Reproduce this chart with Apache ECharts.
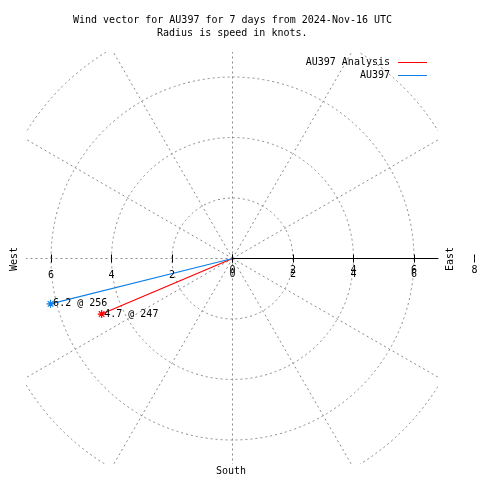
<!DOCTYPE html>
<html><head><meta charset="utf-8">
<script src="https://cdn.jsdelivr.net/npm/echarts@6/dist/echarts.min.js"></script>
<style>html,body{margin:0;padding:0;background:#fff}#c{width:480px;height:480px}</style>
</head><body><div id="c"></div>
<script>
// ---- data ----
const titleLines = ['Wind vector for AU397 for 7 days from 2024-Nov-16 UTC', 'Radius is speed in knots.'];
const seriesNames = ['AU397 Analysis', 'AU397'];
const speeds = [4.7, 6.2];       // knots
const directions = [247, 256];   // degrees (clockwise from north)
const seriesColors = ['#ff0000', '#1080e8'];
const radiusMax = 8;
const radiusStep = 2;
const compassLabels = { west: 'West', east: 'East', south: 'South' };

// ---- layout / style ----
const FONT = 'DejaVu Sans Mono';
const C = [232.5, 258.5];
const R = 242;                 // pixels for radiusMax
const PLOT = { x0: 26, y0: 52, x1: 438, y1: 464 };
const GRID = '#8a8a8a';
const DASH = [2, 3];
const STAR = 'path://M4,0L4,8M0,4L8,4M1.2,1.2L6.8,6.8M1.2,6.8L6.8,1.2';

function angleAxisFor(idx, start, showSplit) {
  return {
    polarIndex: idx, type: 'value', min: 90, max: 450, interval: 30,
    startAngle: start, clockwise: true,
    axisLine: { show: false }, axisTick: { show: false }, axisLabel: { show: false },
    splitLine: { show: !!showSplit, lineStyle: { color: GRID, width: 1, type: DASH } }
  };
}
function radiusAxisFor(idx, opts) {
  return Object.assign({
    polarIndex: idx, type: 'value', min: 0, max: radiusMax, interval: radiusStep, z: 100,
    axisLine: { show: false }, axisTick: { show: false }, axisLabel: { show: false },
    splitLine: { show: false }
  }, opts);
}
const labelBase = { show: true, color: '#000', fontFamily: FONT, fontSize: 10, verticalAlign: 'middle' };
const tickStyle = { color: '#000', width: 1 };

const polar = [
  { center: C, radius: R },          // 0 grid + series
  { center: C, radius: R },          // 1 east ticks up + labels A
  { center: C, radius: R },          // 2 east ticks down + labels B
  { center: C, radius: PLOT.x1 - C[0] }, // 3 east solid axis line
  { center: C, radius: R },          // 4 west ticks down + labels
  { center: C, radius: R }           // 5 west ticks up
];
const angleAxis = [
  angleAxisFor(0, 0, true), angleAxisFor(1, 0), angleAxisFor(2, 0),
  angleAxisFor(3, 0), angleAxisFor(4, 180), angleAxisFor(5, 180)
];
const radiusAxis = [
  radiusAxisFor(0, { z: 0, splitLine: { show: true, lineStyle: { color: GRID, width: 1, type: DASH } } }),
  radiusAxisFor(1, { axisTick: { show: true, length: 4, lineStyle: tickStyle },
    axisLabel: Object.assign({}, labelBase, { margin: -11.5 }) }),
  radiusAxisFor(2, { axisTick: { show: true, length: -4, lineStyle: tickStyle },
    axisLabel: Object.assign({}, labelBase, { margin: -15.5, formatter: v => v === radiusMax ? '' : String(v) }) }),
  radiusAxisFor(3, { axisLine: { show: true, lineStyle: { color: '#000', width: 1 } } }),
  radiusAxisFor(4, { axisTick: { show: true, length: 4, lineStyle: tickStyle },
    axisLabel: Object.assign({}, labelBase, { margin: 16.5, formatter: v => (v === 0 || v === radiusMax) ? '' : String(v) }) }),
  radiusAxisFor(5, { axisTick: { show: true, length: -4, lineStyle: tickStyle } })
];

const series = seriesNames.map((name, i) => ({
  type: 'line', name, coordinateSystem: 'polar', polarIndex: 0,
  data: [
    { value: [0, directions[i]], symbol: 'none', label: { show: false } },
    { value: [speeds[i], directions[i]] }
  ],
  symbol: STAR, symbolSize: 8, showSymbol: true, z: 2,
  lineStyle: { color: seriesColors[i], width: 1.2 },
  itemStyle: { color: seriesColors[i], borderColor: seriesColors[i], borderWidth: 1.2 },
  label: {
    show: true, position: 'right', distance: -2, color: '#000', fontFamily: FONT, fontSize: 10,
    formatter: () => speeds[i].toFixed(1) + ' @ ' + directions[i]
  },
  emphasis: { disabled: true }, silent: true
}));

const mask = [
  { x: 0, y: 0, width: 480, height: PLOT.y0 },
  { x: 0, y: PLOT.y1, width: 480, height: 480 - PLOT.y1 },
  { x: 0, y: 0, width: PLOT.x0, height: 480 },
  { x: PLOT.x1, y: 0, width: 480 - PLOT.x1, height: 480 }
].map(s => ({ type: 'rect', shape: s, style: { fill: '#fff' }, z: 50, silent: true }));

const textFont = '10px "' + FONT + '"';
const compass = [
  { type: 'text', x: 14.5, y: 259, rotation: Math.PI / 2, z: 100,
    style: { text: compassLabels.west, font: textFont, fill: '#000', align: 'center', verticalAlign: 'middle' } },
  { type: 'text', x: 450.5, y: 259, rotation: Math.PI / 2, z: 100,
    style: { text: compassLabels.east, font: textFont, fill: '#000', align: 'center', verticalAlign: 'middle' } },
  { type: 'text', x: 231, y: 471, z: 100,
    style: { text: compassLabels.south, font: textFont, fill: '#000', align: 'center', verticalAlign: 'middle' } }
];

const chart = echarts.init(document.getElementById('c'), null, { renderer: 'canvas' });
chart.setOption({
  animation: false,
  backgroundColor: '#fff',
  title: [
    { text: titleLines[0], left: 73, top: 14, padding: 0, z: 100,
      textStyle: { fontFamily: FONT, fontSize: 10, fontWeight: 'normal', color: '#000', lineHeight: 13 } },
    { text: titleLines[1], left: 157, top: 27, padding: 0, z: 100,
      textStyle: { fontFamily: FONT, fontSize: 10, fontWeight: 'normal', color: '#000', lineHeight: 13 } }
  ],
  legend: {
    data: seriesNames, orient: 'vertical', align: 'right', right: 53, top: 56.5,
    itemWidth: 29, itemHeight: 1, itemGap: 1, icon: 'rect', padding: 0, z: 100,
    selectedMode: false,
    itemStyle: { borderWidth: 0 },
    textStyle: { fontFamily: FONT, fontSize: 10, color: '#000', lineHeight: 12, padding: [0, 3, 0, 0] }
  },
  polar, angleAxis, radiusAxis, series,
  graphic: mask.concat(compass)
});
</script></body></html>
